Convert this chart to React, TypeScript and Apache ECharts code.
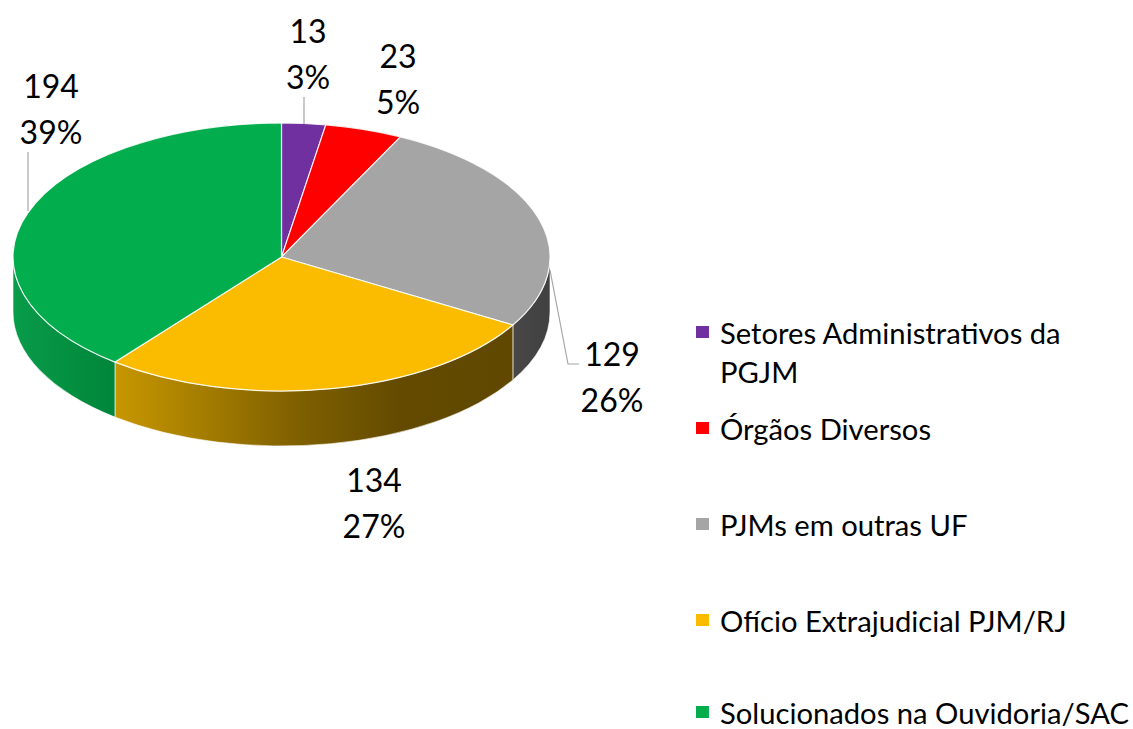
import React, { useEffect, useRef } from "react";
import * as echarts from "echarts";

const categories = [
  "Setores Administrativos da\nPGJM",
  "Órgãos Diversos",
  "PJMs em outras UF",
  "Ofício Extrajudicial PJM/RJ",
  "Solucionados na Ouvidoria/SAC",
];
const values = [13, 23, 129, 134, 194];
const colors = ["#7030A0", "#FF0000", "#A5A5A5", "#FBBC00", "#02AD4E"];

// Layout of the tilted pie (pixels)
const CX = 281.5;
const CY = 257;
const RX = 268.5;
const RY = 134;
const DEPTH = 55;

const labelAnchors: [number, number][] = [
  [308, 53],
  [398, 78.5],
  [612, 376.5],
  [374, 502],
  [51, 108],
];
const leaderLines: ([number, number][] | null)[] = [
  [[304, 97], [304, 124]],
  null,
  [[550, 270], [568, 364], [579, 364]],
  null,
  [[28, 152], [28, 211]],
];
const wallStops: { x0: number; x1: number; stops: [number, string][] }[] = [
  { x0: 0, x1: 1, stops: [[0, "#444"], [1, "#444"]] },
  { x0: 0, x1: 1, stops: [[0, "#444"], [1, "#444"]] },
  { x0: 513, x1: 551, stops: [[0, "#484848"], [1, "#404040"]] },
  { x0: 115, x1: 513, stops: [[0, "#C79700"], [0.46, "#7F6000"], [0.72, "#634A00"], [1, "#614800"]] },
  { x0: 13, x1: 115, stops: [[0, "#089C49"], [1, "#00853A"]] },
];

const LEGEND_X = 696;
const LEGEND_TEXT_X = 720;
const LEGEND_Y = [332, 428, 524, 620, 712];
const LEGEND_LINE = 39;
const LEGEND_SINGLE_LINE = 24;
const FONT = "Lato, Carlito, Calibri, sans-serif";

const total = values.reduce((a, b) => a + b, 0);
const pt = (t: number, dy = 0): [number, number] => [
  CX + RX * Math.sin(t),
  CY - RY * Math.cos(t) + dy,
];
const arc = (to: [number, number], large: boolean, sweep: number) =>
  `A ${RX} ${RY} 0 ${large ? 1 : 0} ${sweep} ${to[0]} ${to[1]}`;

const renderItem = (params: any, api: any) => {
  const i = params.dataIndex;
  const v = api.value(0);
  const before = values.slice(0, i).reduce((a, b) => a + b, 0);
  const t0 = (before / total) * Math.PI * 2;
  const t1 = ((before + v) / total) * Math.PI * 2;
  const children: any[] = [];

  // side wall: only the part of the rim facing the viewer
  const w0 = Math.max(t0, Math.PI / 2);
  const w1 = Math.min(t1, (Math.PI * 3) / 2);
  if (w1 > w0) {
    const a = pt(w0);
    const b = pt(w1);
    const a2 = pt(w0, DEPTH);
    const b2 = pt(w1, DEPTH);
    const g = wallStops[i];
    children.push({
      type: "path",
      shape: {
        pathData: `M ${a[0]} ${a[1]} ${arc(b, w1 - w0 > Math.PI, 1)} L ${b2[0]} ${b2[1]} ${arc(a2, w1 - w0 > Math.PI, 0)} Z`,
      },
      style: {
        fill: new echarts.graphic.LinearGradient(
          g.x0, 0, g.x1, 0,
          g.stops.map(([offset, color]) => ({ offset, color })),
          true
        ),
        stroke: "rgba(255,255,255,0.6)",
        lineWidth: 1,
      },
    });
  }

  // top face
  const s = pt(t0);
  const e = pt(t1);
  children.push({
    type: "path",
    shape: {
      pathData: `M ${CX} ${CY} L ${s[0]} ${s[1]} ${arc(e, t1 - t0 > Math.PI, 1)} Z`,
    },
    style: { fill: colors[i], stroke: "rgba(255,255,255,0.85)", lineWidth: 1.2 },
  });

  // leader line
  const line = leaderLines[i];
  if (line) {
    children.push({
      type: "polyline",
      shape: { points: line },
      style: { fill: "none", stroke: "#A6A6A6", lineWidth: 1.2 },
    });
  }

  // data label
  const [lx, ly] = labelAnchors[i];
  children.push({
    type: "text",
    style: {
      text: `${v}\n${Math.round((v / total) * 100)}%`,
      x: lx,
      y: ly,
      align: "center",
      verticalAlign: "middle",
      fontFamily: FONT,
      fontSize: 32,
      lineHeight: 46,
      fill: "#000",
    },
  });
  return { type: "group", children };
};

export default function App() {
  const ref = useRef<HTMLDivElement>(null);
  useEffect(() => {
    document.body.style.margin = "0";
    const chart = echarts.init(ref.current!, undefined, { renderer: "svg" });
    chart.setOption({
      animation: false,
      backgroundColor: "#fff",
      series: [
        {
          type: "custom",
          coordinateSystem: "none",
          silent: true,
          renderItem,
          data: values.map((value, i) => ({ name: categories[i], value })),
        },
      ],
      graphic: categories.flatMap((name, i) => {
        const y = LEGEND_Y[i];
        const lh = name.includes("\n") ? LEGEND_LINE : LEGEND_SINGLE_LINE;
        return [
          {
            type: "rect",
            shape: { x: LEGEND_X, y: y - 6, width: 13, height: 12 },
            style: { fill: colors[i] },
          },
          {
            type: "text",
            style: {
              text: name,
              x: LEGEND_TEXT_X,
              y: y - lh / 2,
              align: "left",
              verticalAlign: "top",
              fontFamily: FONT,
              fontSize: 29.2,
              lineHeight: lh,
              fill: "#000",
            },
          },
        ];
      }),
    });
    return () => chart.dispose();
  }, []);
  return (
    <div
      ref={ref}
      style={{ position: "absolute", left: 0, top: 0, width: 1133, height: 729 }}
    />
  );
}
